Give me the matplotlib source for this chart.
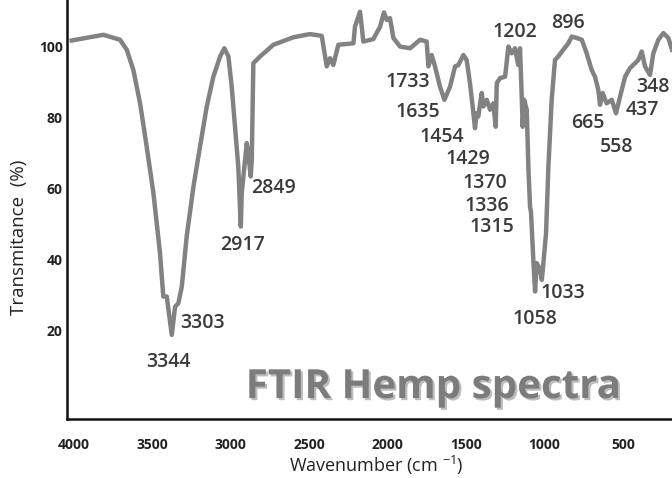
import matplotlib
matplotlib.use("Agg")
import matplotlib.pyplot as plt
import matplotlib.patheffects as pe

plt.rcParams['font.family'] = ['Open Sans', 'DejaVu Sans']

# spectrum: wavenumber (cm-1) and transmittance (%)
wavenumber = [4015, 3813, 3707, 3664, 3622, 3579, 3537, 3494, 3452, 3431, 3409, 3377,
              3356, 3335, 3313, 3282, 3239, 3197, 3154, 3112, 3069, 3042, 3016, 2995,
              2974, 2953, 2937, 2931, 2910, 2899, 2889, 2874, 2867, 2857, 2814, 2729,
              2602, 2496, 2421, 2389, 2368, 2347, 2315, 2219, 2209, 2177, 2166, 2156,
              2092, 2049, 2024, 2007, 1986, 1964, 1922, 1858, 1794, 1752, 1741, 1720,
              1699, 1667, 1639, 1603, 1571, 1550, 1518, 1497, 1476, 1454, 1444, 1433,
              1423, 1401, 1391, 1369, 1348, 1327, 1312, 1305, 1284, 1252, 1231, 1210,
              1189, 1168, 1157, 1146, 1140, 1131, 1114, 1103, 1093, 1087, 1072, 1061,
              1050, 1029, 1018, 1008, 991, 976, 955, 934, 913, 881, 849, 827, 795, 763,
              732, 700, 679, 658, 647, 630, 605, 572, 545, 519, 487, 456, 403, 381, 360,
              328, 307, 275, 243, 211, 188]
transmittance = [101.8, 103.4, 102.0, 99.2, 93.5, 84.1, 71.9, 58.8, 41.9, 29.7, 29.7, 18.9,
                 26.8, 27.8, 32.5, 46.6, 60.6, 71.9, 83.2, 91.6, 97.3, 99.6, 97.3, 88.8,
                 77.5, 66.3, 49.4, 58.8, 68.2, 72.9, 70.1, 63.5, 68.2, 95.4, 97.3, 100.6,
                 102.7, 103.6, 103.1, 94.5, 96.8, 94.9, 100.6, 101.0, 105.7, 109.9, 105.7, 101.5,
                 102.2, 105.7, 109.7, 107.6, 108.1, 102.5, 100.1, 99.6, 102.0, 101.5, 94.5, 97.7,
                 94.5, 88.8, 85.1, 88.8, 94.5, 94.9, 97.7, 96.3, 89.8, 81.3, 77.1, 81.3,
                 80.4, 87.0, 83.2, 85.1, 82.3, 84.1, 77.5, 89.8, 91.2, 91.6, 100.1, 98.2,
                 99.6, 94.9, 99.6, 86.0, 77.5, 85.1, 82.3, 65.3, 55.0, 53.5, 40.0, 31.1,
                 39.1, 37.2, 34.4, 39.1, 47.5, 66.3, 85.1, 96.3, 97.3, 99.2, 101.0, 102.9, 102.5, 102.0,
                 98.2, 93.5, 91.6, 87.9, 83.7, 87.0, 84.1, 85.1, 81.3, 86.0, 91.6, 94.0, 96.3, 98.7, 94.5,
                 92.1, 98.2, 102.0, 103.9, 102.5, 99.2]

# peak labels and where they sit
peak_labels = ['3344', '3303', '2917', '2849', '1733', '1635', '1454', '1429', '1370',
               '1336', '1315', '1202', '896', '665', '558', '437', '348', '1033', '1058']
label_x = [3401, 3178, 2923, 2731, 1871, 1807, 1654, 1488, 1380,
           1367, 1335, 1188, 851, 724, 538, 379, 309, 883, 1061]
label_y = [11.3, 22.2, 44.2, 60.3, 90.1, 81.7, 74.6, 68.4, 61.7,
           55.2, 49.3, 104.2, 106.8, 78.6, 71.8, 82.3, 88.7, 30.7, 23.4]

xticks = [4000, 3500, 3000, 2500, 2000, 1500, 1000, 500]
yticks = [20, 40, 60, 80, 100]

fig = plt.figure(figsize=(6.72, 4.78), dpi=100)
ax = fig.add_axes([0.0997, 0.1234, 0.9003, 0.8766])

ax.plot(wavenumber, transmittance, color='#828282', lw=3.2, solid_joinstyle='round')

for txt, x, y in zip(peak_labels, label_x, label_y):
    ax.text(x, y, txt, ha='center', va='center', fontsize=14,
            fontweight='semibold', color='#3a3a3a')

ax.text(0.605, 0.05, 'FTIR Hemp spectra', transform=ax.transAxes,
        ha='center', va='baseline', fontsize=29, fontweight='bold', color='#7c7c7c',
        path_effects=[pe.withSimplePatchShadow(offset=(1.5, -1.5), alpha=0.3)])

ax.set_xlim(4045, 188)
ax.set_ylim(-4.8, 113.2)
ax.set_xticks(xticks)
ax.set_yticks(yticks)
ax.tick_params(length=0, labelsize=10, labelcolor='#222222')
ax.tick_params(axis='x', pad=14)
ax.tick_params(axis='y', pad=3)
for lab in ax.get_xticklabels() + ax.get_yticklabels():
    lab.set_fontweight('bold')

ax.spines['top'].set_visible(False)
ax.spines['right'].set_visible(False)
for s in ['left', 'bottom']:
    ax.spines[s].set_linewidth(1.8)
    ax.spines[s].set_color('#111111')

ax.set_xlabel(r'Wavenumber (cm $^{\mathregular{-1}}$)', fontsize=13, color='#222222')
ax.xaxis.set_label_coords(0.512, -0.083)
ax.set_ylabel('Transmitance  (%)', fontsize=13.5, color='#222222')
ax.yaxis.set_label_coords(-0.064, 0.434)

fig.savefig('out.png', dpi=100)
